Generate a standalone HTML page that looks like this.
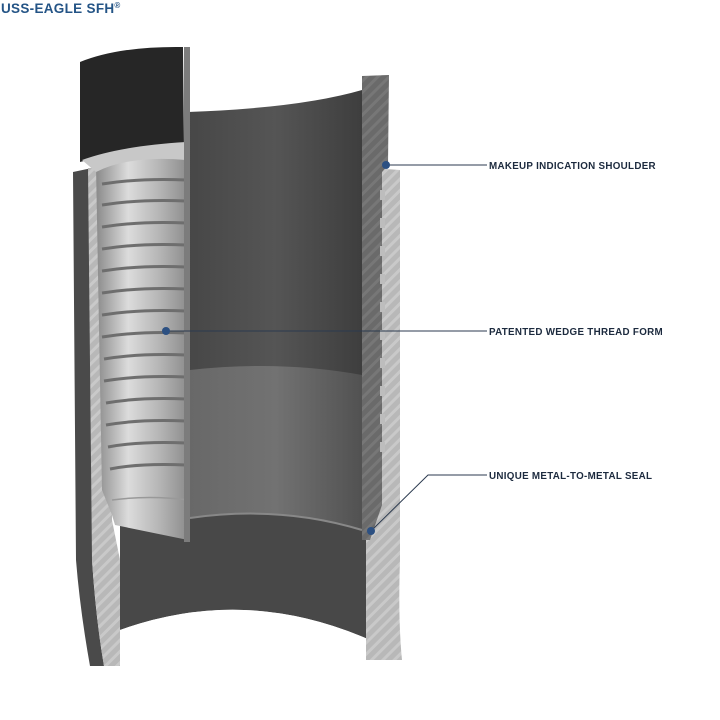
<!DOCTYPE html>
<html><head><meta charset="utf-8"><style>
html,body{margin:0;padding:0;background:#fff;width:720px;height:720px;overflow:hidden}
svg{display:block}
.t{font-family:"Liberation Sans",sans-serif;font-weight:bold;font-size:9.8px;fill:#1c2a3e;letter-spacing:0.3px}
</style></head><body>
<svg width="720" height="720" viewBox="0 0 720 720" xmlns="http://www.w3.org/2000/svg">
<defs>
<pattern id="hatch" width="8" height="8" patternUnits="userSpaceOnUse" patternTransform="rotate(45)">
<rect width="8" height="8" fill="#b8b8b8"/><rect width="3" height="8" fill="#c9c9c9"/>
</pattern>
<pattern id="hatchD" width="8" height="8" patternUnits="userSpaceOnUse" patternTransform="rotate(45)">
<rect width="8" height="8" fill="#6a6a6a"/><rect width="3" height="8" fill="#777"/>
</pattern>
<linearGradient id="thr" x1="0" x2="1">
<stop offset="0" stop-color="#8a8a8a"/><stop offset="0.35" stop-color="#dcdcdc"/><stop offset="0.7" stop-color="#b4b4b4"/><stop offset="1" stop-color="#8c8c8c"/>
</linearGradient>
<linearGradient id="inner" x1="0" x2="1">
<stop offset="0" stop-color="#474747"/><stop offset="0.5" stop-color="#555"/><stop offset="1" stop-color="#3e3e3e"/>
</linearGradient>
<linearGradient id="lowin" x1="0" x2="1">
<stop offset="0" stop-color="#6e6e6e"/><stop offset="0.5" stop-color="#777"/><stop offset="1" stop-color="#555"/>
</linearGradient>
</defs>
<text x="1" y="13" font-family="Liberation Sans,sans-serif" font-weight="bold" font-size="13.5" fill="#245486" letter-spacing="0.3">USS-EAGLE SFH<tspan font-size="8" dy="-5">®</tspan></text>

<path d="M92 168 L370 168 L370 640 Q245 585 120 630 L120 168 Z" fill="#484848"/>
<path d="M120 630 Q245 585 370 640 L370 720 L120 720 Z" fill="#fff"/>
<path d="M188 112 Q300 108 362 90 L362 530 Q280 505 190 518 Z" fill="url(#inner)"/>
<path d="M190 370 Q280 360 362 375 L362 530 Q280 505 190 518 Z" fill="url(#lowin)" opacity="0.85"/>
<path d="M190 518 Q280 505 362 530" stroke="#888" stroke-width="2" fill="none"/>

<path d="M73 172 L92 168 L92 560 Q96 620 104 666 L90 666 Q80 610 76 560 Z" fill="#4a4a4a"/>
<path d="M88 168 L112 168 L112 520 L120 560 L120 666 L104 666 Q96 620 92 560 Z" fill="url(#hatch)"/>
<path d="M372 168 L400 170 L400 560 Q398 620 402 660 L366 660 L366 540 L372 520 Z" fill="url(#hatch)"/>
<path d="M362 76 L389 75 L388 165 L382 172 L382 505 L370 540 L362 540 Z" fill="url(#hatchD)"/>
<g fill="#bdbdbd">
<rect x="380" y="190" width="5" height="10"/><rect x="380" y="218" width="5" height="10"/><rect x="380" y="246" width="5" height="10"/><rect x="380" y="274" width="5" height="10"/><rect x="380" y="302" width="5" height="10"/><rect x="380" y="330" width="5" height="10"/><rect x="380" y="358" width="5" height="10"/><rect x="380" y="386" width="5" height="10"/><rect x="380" y="414" width="5" height="10"/><rect x="380" y="442" width="5" height="10"/>
</g>
<path d="M80 62 Q120 46 183 47 L184 150 Q130 148 80 162 Z" fill="#262626"/>
<path d="M96 165 Q130 148 185 148 L188 540 L115 525 L112 515 L102 490 Z" fill="url(#thr)"/>
<path d="M82 160 Q120 146 186 142 L186 160 Q130 155 96 172 Z" fill="#c8c8c8"/>
<g stroke="#6e6e6e" stroke-width="3" fill="none">
<path d="M102 184 Q140 178 186 180"/><path d="M102 205 Q140 199 186 201"/><path d="M102 227 Q140 221 186 223"/><path d="M102 249 Q140 243 186 245"/><path d="M102 271 Q140 265 186 267"/><path d="M102 293 Q140 287 186 289"/><path d="M102 315 Q140 309 186 311"/><path d="M102 337 Q140 331 186 333"/><path d="M104 359 Q140 353 186 355"/><path d="M104 381 Q140 375 186 377"/><path d="M106 403 Q140 397 186 399"/><path d="M106 425 Q140 419 186 421"/><path d="M108 447 Q140 441 186 443"/><path d="M110 469 Q140 463 186 465"/>
</g>
<path d="M112 500 Q150 495 188 500" stroke="#999" stroke-width="1.5" fill="none"/>
<rect x="184" y="47" width="6" height="495" fill="#7c7c7c"/>

<g stroke="#2b3a4f" stroke-width="1" fill="none">
<line x1="386" y1="165" x2="487" y2="165"/>
<line x1="166" y1="331" x2="487" y2="331"/>
<polyline points="371,531 428,475 487,475"/>
</g>
<g fill="#2c5082">
<circle cx="386" cy="165" r="4"/><circle cx="166" cy="331" r="4"/><circle cx="371" cy="531" r="4"/>
</g>
<text class="t" x="489" y="169">MAKEUP INDICATION SHOULDER</text>
<text class="t" x="489" y="335">PATENTED WEDGE THREAD FORM</text>
<text class="t" x="489" y="479">UNIQUE METAL-TO-METAL SEAL</text>
</svg>
</body></html>
